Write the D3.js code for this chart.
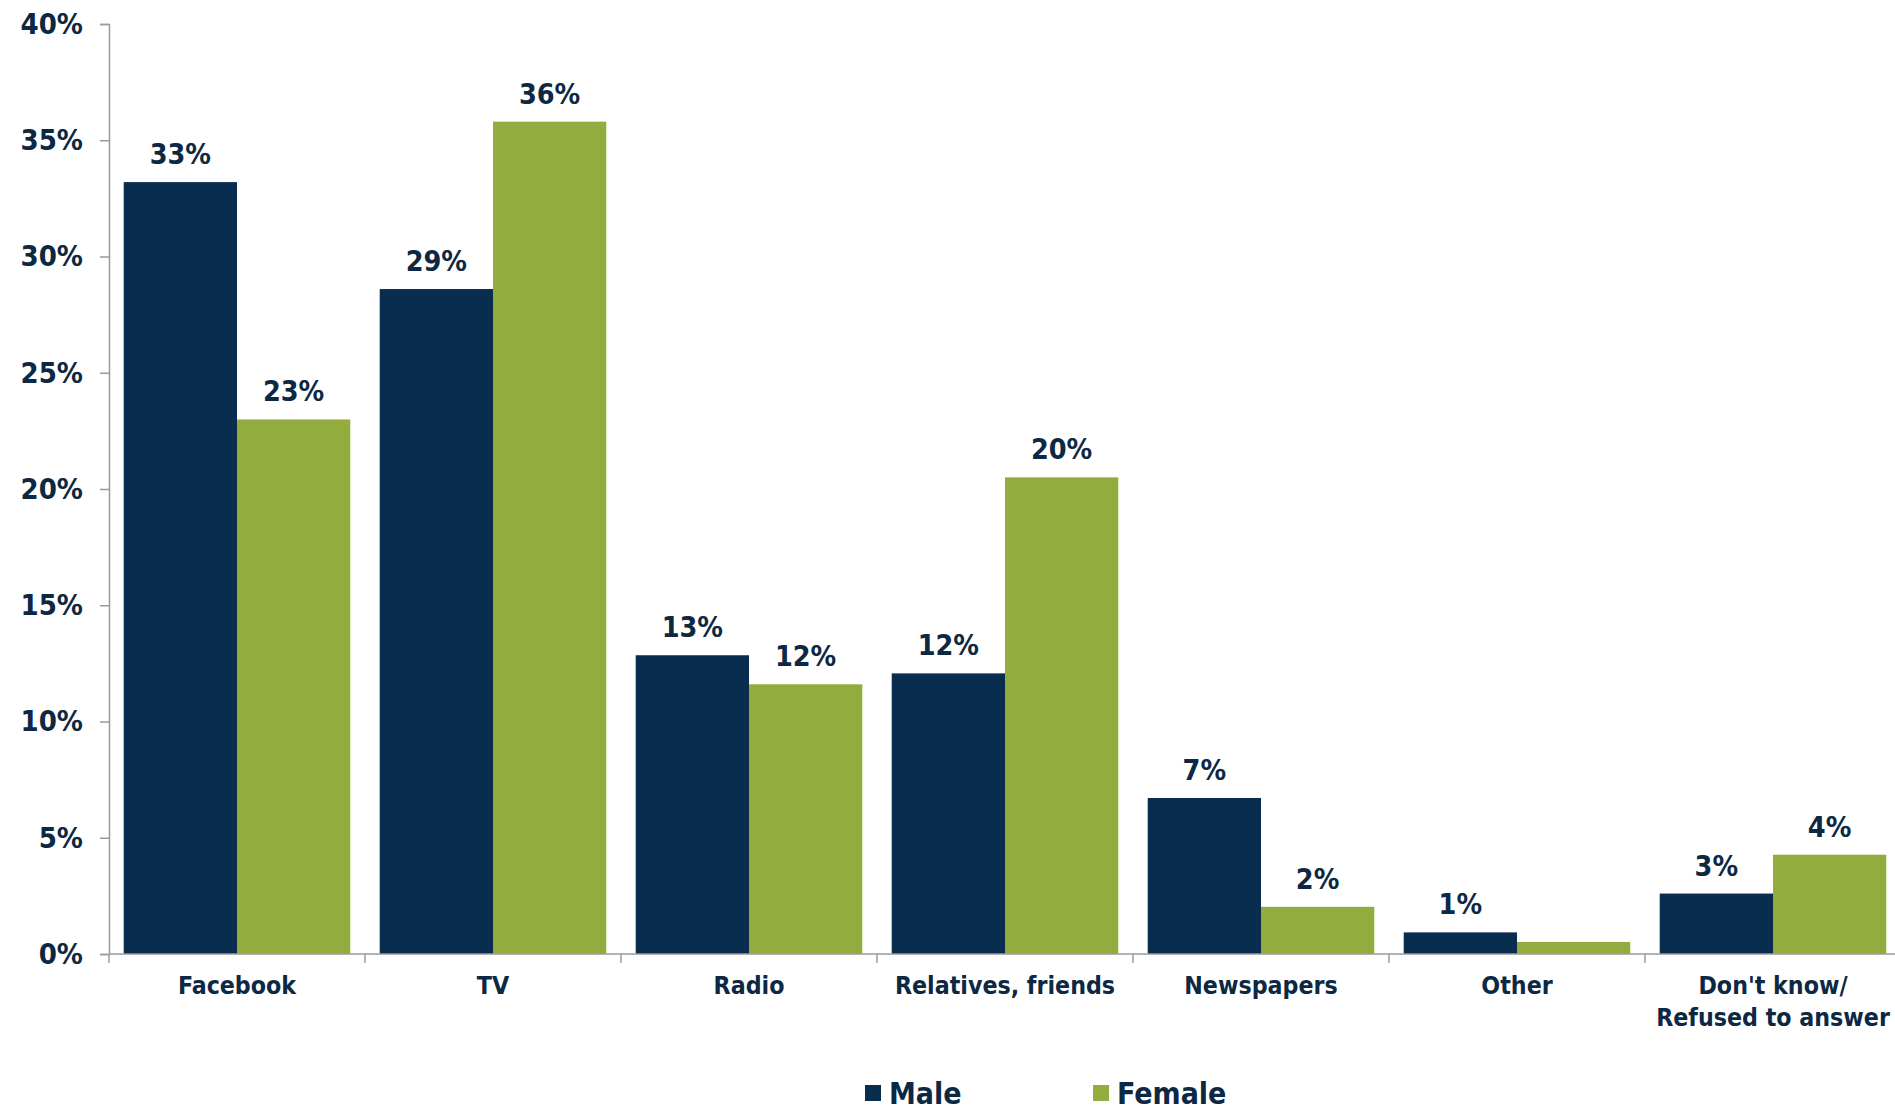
<!DOCTYPE html>
<html>
<head>
<meta charset="utf-8">
<script src="https://cdn.jsdelivr.net/npm/d3@7"></script>
<style>
    body { margin: 0; background: #fff; }
    text { font-family: "DejaVu Sans Condensed", "DejaVu Sans", sans-serif; font-weight: bold; fill: #0d2843; }
</style>
</head>
<body>
<svg id="drawing_region"></svg>
<script>
const categories = ["Facebook", "TV", "Radio", "Relatives, friends", "Newspapers", "Other", "Don't know/\nRefused to answer"];
const series = ["Male", "Female"];
const male = [33.2, 28.6, 12.85, 12.07, 6.71, 0.93, 2.6];
const female = [22.99, 35.8, 11.6, 20.5, 2.03, 0.52, 4.27];
const maleLabels = ["33%", "29%", "13%", "12%", "7%", "1%", "3%"];
const femaleLabels = ["23%", "36%", "12%", "20%", "2%", "", "4%"];
const yTicks = [0, 5, 10, 15, 20, 25, 30, 35, 40];
const colors = ["#082d4f", "#92ad3e"];

const config = {
    width: 1895,
    height: 1112,
    margin: {top: 24, right: -6, bottom: 158, left: 109}
};

const svg = d3.select('#drawing_region')
    .attr('width', config.width)
    .attr('height', config.height);

const inner_width = config.width - config.margin.left - config.margin.right;
const inner_height = config.height - config.margin.top - config.margin.bottom;

const chart = svg.append('g')
    .attr('transform', `translate(${config.margin.left}, ${config.margin.top})`);

const xscale = d3.scaleBand()
    .domain(categories)
    .range([0, inner_width]);

const xinner = d3.scaleBand()
    .domain(series)
    .range([0, xscale.bandwidth()])
    .paddingInner(0)
    .paddingOuter(0.13);

const yscale = d3.scaleLinear()
    .domain([0, 40])
    .range([inner_height, 0]);

// y axis
const yaxis = d3.axisLeft(yscale)
    .tickValues(yTicks)
    .tickSize(9)
    .tickPadding(17)
    .tickFormat(d => d + '%');

const yaxis_group = chart.append('g').call(yaxis);
yaxis_group.attr('font-family', null);
yaxis_group.select('.domain').attr('stroke', '#9a9a9a').attr('stroke-width', 1.5);
yaxis_group.selectAll('.tick line').attr('stroke', '#9a9a9a').attr('stroke-width', 1.5);
yaxis_group.selectAll('.tick text')
    .style('font-size', '29px')
    .attr('fill', null);

// bars
const rows = categories.map((c, i) => ({
    cat: c,
    vals: [
        {s: series[0], v: male[i], label: maleLabels[i]},
        {s: series[1], v: female[i], label: femaleLabels[i]}
    ]
}));

const groups = chart.selectAll('.grp')
    .data(rows)
    .enter()
    .append('g')
    .attr('class', 'grp')
    .attr('transform', d => `translate(${xscale(d.cat)}, 0)`);

groups.selectAll('rect')
    .data(d => d.vals)
    .enter()
    .append('rect')
    .attr('x', d => xinner(d.s))
    .attr('y', d => yscale(d.v))
    .attr('width', xinner.bandwidth())
    .attr('height', d => inner_height - yscale(d.v))
    .attr('fill', (d, i) => colors[i]);

groups.selectAll('.val')
    .data(d => d.vals)
    .enter()
    .append('text')
    .attr('class', 'val')
    .attr('x', d => xinner(d.s) + xinner.bandwidth() / 2)
    .attr('y', d => yscale(d.v) - 18)
    .attr('text-anchor', 'middle')
    .style('font-size', '28.5px')
    .text(d => d.label);

// x axis
const xaxis_group = chart.append('g')
    .attr('transform', `translate(0, ${inner_height})`);

xaxis_group.append('line')
    .attr('x1', 0).attr('x2', inner_width)
    .attr('y1', 0).attr('y2', 0)
    .attr('stroke', '#9a9a9a')
    .attr('stroke-width', 1.5);

const bounds = categories.map(c => xscale(c)).concat([inner_width]);
xaxis_group.selectAll('.xtick')
    .data(bounds)
    .enter()
    .append('line')
    .attr('x1', d => d).attr('x2', d => d)
    .attr('y1', 0).attr('y2', 9)
    .attr('stroke', '#9a9a9a')
    .attr('stroke-width', 1.5);

const catLabels = xaxis_group.selectAll('.cat')
    .data(categories)
    .enter()
    .append('text')
    .attr('class', 'cat')
    .attr('x', d => xscale(d) + xscale.bandwidth() / 2)
    .attr('y', 40)
    .attr('text-anchor', 'middle')
    .style('font-size', '24.7px');

catLabels.each(function(d) {
    const lines = d.split('\n');
    d3.select(this).selectAll('tspan')
        .data(lines)
        .enter()
        .append('tspan')
        .attr('x', xscale(d) + xscale.bandwidth() / 2)
        .attr('dy', (l, i) => i === 0 ? 0 : 32)
        .text(l => l);
});

// legend
const legend = svg.append('g')
    .attr('transform', `translate(865, 1085)`);

const legendX = [0, 228];
const items = legend.selectAll('.leg')
    .data(series)
    .enter()
    .append('g')
    .attr('transform', (d, i) => `translate(${legendX[i]}, 0)`);

items.append('rect')
    .attr('width', 16)
    .attr('height', 16)
    .attr('fill', (d, i) => colors[i]);

items.append('text')
    .attr('x', 24)
    .attr('y', 19)
    .style('font-size', '30px')
    .text(d => d);
</script>
</body>
</html>
